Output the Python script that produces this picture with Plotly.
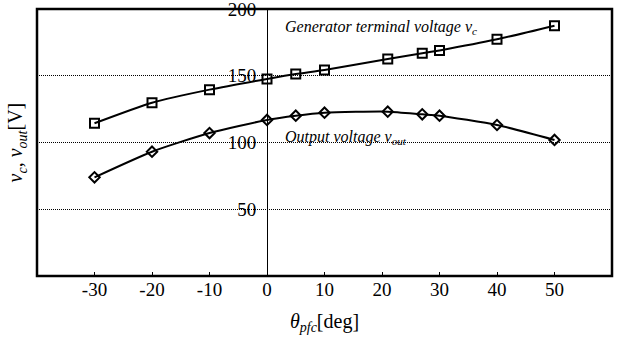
import plotly.graph_objects as go

# Power-factor-control angle (deg)
theta_pfc = [-30, -20, -10, 0, 5, 10, 21, 27, 30, 40, 50]
# Generator terminal voltage v_c (V)
v_c = [114.4, 129.8, 139.6, 147.6, 151.3, 154.3, 162.5, 166.8, 169.0, 177.3, 187.5]
# Output voltage v_out (V)
v_out = [73.9, 93.1, 107.1, 116.9, 120.1, 122.3, 123.1, 121.1, 120.1, 113.1, 101.9]

x_ticks = [-30, -20, -10, 0, 10, 20, 30, 40, 50]
y_ticks = [50, 100, 150, 200]

SERIF = "Liberation Serif, Times New Roman, serif"

fig = go.Figure()
fig.add_trace(go.Scatter(
    x=theta_pfc, y=v_c, mode="lines+markers",
    line=dict(color="black", width=2, shape="spline", smoothing=0.6),
    marker=dict(symbol="square-open", size=9, color="black", line=dict(width=2)),
    showlegend=False,
))
fig.add_trace(go.Scatter(
    x=theta_pfc, y=v_out, mode="lines+markers",
    line=dict(color="black", width=2, shape="spline", smoothing=0.6),
    marker=dict(symbol="diamond-open", size=8, color="black", line=dict(width=2)),
    showlegend=False,
))

fig.update_layout(
    width=627, height=342,
    margin=dict(l=37, r=15, t=9, b=66),
    paper_bgcolor="white", plot_bgcolor="white",
    font=dict(family=SERIF, color="black", size=19),
    xaxis=dict(
        range=[-40, 60], tickvals=x_ticks, ticktext=[str(v) for v in x_ticks],
        showgrid=False, zeroline=False, showline=False, automargin=False,
        ticks="inside", ticklen=4, tickwidth=1, tickcolor="black",
        tickfont=dict(family=SERIF, size=19),
        title=dict(text="<i>θ<sub>pfc</sub></i>[deg]", font=dict(family=SERIF, size=20), standoff=14),
    ),
    yaxis=dict(
        range=[0, 200], tickvals=y_ticks, ticktext=[str(v) for v in y_ticks],
        anchor="free", position=0.4, automargin=False,
        showline=True, linecolor="black", linewidth=1,
        showgrid=True, gridcolor="black", griddash="1px,1px", gridwidth=1,
        zeroline=False, ticks="", ticklabelstandoff=7,
        ticklabeloverflow="allow",
        tickfont=dict(family=SERIF, size=19),
    ),
    shapes=[dict(type="rect", xref="paper", yref="paper", x0=0, x1=1, y0=0, y1=1,
                 line=dict(color="black", width=2.5), layer="above")],
    annotations=[
        dict(x=-0.035, y=0.5, xref="paper", yref="paper", textangle=-90,
             text="<i>v<sub>c</sub></i>, <i>v<sub>out</sub></i>[V]", showarrow=False,
             font=dict(family=SERIF, size=20), xanchor="center", yanchor="middle"),
        dict(x=2.8, y=186, xref="x", yref="y", xanchor="left", yanchor="middle",
             text="<i>Generator terminal voltage v<sub>c</sub></i>", showarrow=False,
             font=dict(family=SERIF, size=16)),
        dict(x=2.8, y=104, xref="x", yref="y", xanchor="left", yanchor="middle",
             text="<i>Output voltage v<sub>out</sub></i>", showarrow=False,
             font=dict(family=SERIF, size=16)),
    ],
)

fig.write_html("out.html")
